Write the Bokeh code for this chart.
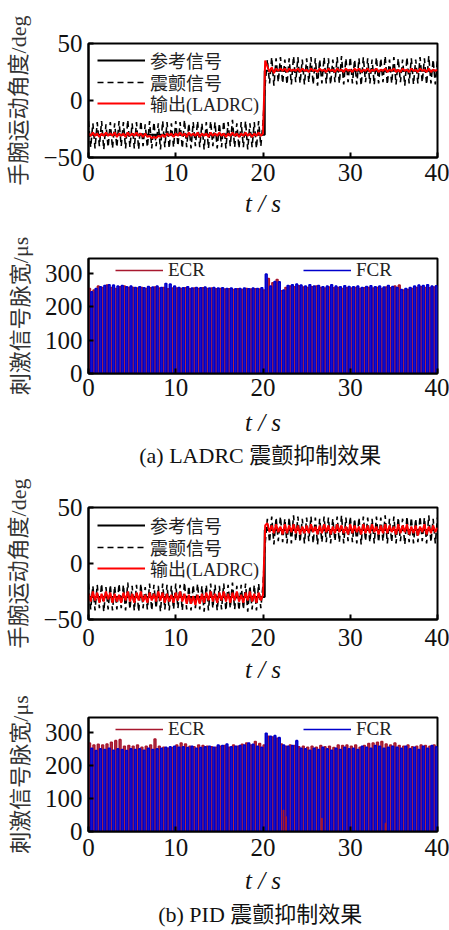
import numpy as np
from bokeh.plotting import figure
from bokeh.models import Legend, LegendItem, Range1d, FixedTicker, Title
from bokeh.layouts import column
from bokeh.embed import file_html
from bokeh.resources import INLINE

# ---------------- data ----------------
x_ticks = [0, 10, 20, 30, 40]
angle_ticks = [-50, 0, 50]
pulse_ticks = [0, 100, 200, 300]

step_t = 20.2
ref_a = [-30, 26]        # reference before / after the step, panel (a)
ref_b = [-30, 30]        # reference before / after the step, panel (b)
half_cycle = 0.25        # spacing of the read-off samples (s)

# tremor disturbance (deg, relative to reference), read at half-cycle samples
trem_dev = [
    12, -11, 10, -12, 11, -10, 12, -13, 9, -11, 11, -12, 10, -11, 12, -10, 11, -12, 13, -11,
    10, -12, 11, -13, 12, -10, 9, -11, 12, -12, 11, -10, 10, -13, 12, -11, 11, -12, 10, -11,
    12, -10, 11, -12, 13, -11, 10, -12, 11, -10, 12, -11, 10, -13, 11, -12, 12, -10, 11, -12,
    10, -11, 12, -12, 11, -10, 13, -11, 10, -12, 11, -11, 12, -13, 10, -11, 11, -12, 12, -10,
    11, -12, 10, -11, 12, -13, 11, -10, 12, -11, 10, -12, 11, -12, 13, -10, 12, -11, 10, -12,
    11, -10, 12, -12, 11, -13, 10, -11, 12, -11, 11, -12, 10, -10, 12, -11, 13, -12, 11, -10,
    12, -11, 10, -12, 11, -13, 12, -10, 11, -11, 10, -12, 12, -11, 11, -10, 13, -12, 10, -11,
    12, -12, 11, -10, 10, -13, 12, -11, 11, -12, 10, -11, 12, -10, 11, -12, 13, -11, 10, -12,
    11]

# LADRC output deviation from reference, panel (a)
out_a_dev = [
    1, -1, 2, -1, 1, -2, 1, -1, 2, -1, 1, -1, 2, -2, 1, -1, 1, -2, 2, -1,
    1, -1, 2, -1, 1, -2, 1, -2, -1, -3, -2, -3, -1, -2, 0, -2, 1, -1, 1, -2,
    1, -1, 2, -1, 1, -2, 2, -1, 1, -1, 2, -2, 1, -1, 1, -2, 2, -1, 1, -1,
    2, -1, 1, -2, 1, -1, 2, -1, 1, -2, 1, -1, 2, -1, 1, -2, 1, -1, 2, -1,
    1, 9, 4, -1, 3, -2, 2, 0, 2, 0, 2, -1, 2, 0, 1, 0, 2, -1, 2, 0,
    1, -1, 2, 0, 1, -1, 2, 0, 1, -1, 2, 0, 1, -1, 2, 0, 1, -1, 2, 0,
    1, -1, 2, 0, 2, -1, 1, 0, 2, -1, 1, 0, 2, -1, 1, 0, 2, -1, 1, 0,
    2, -1, 1, -1, 2, 0, 1, -1, 2, 0, 1, -1, 2, 0, 1, -1, 2, -1, 1, 0,
    1]

# PID output deviation from reference, panel (b)
out_b_dev = [
    3, -4, 5, -3, 4, -5, 3, -4, 5, -2, 4, -5, 3, -4, 2, -5, 4, -3, 5, -4,
    3, -5, 4, -3, 5, -4, 2, -5, 4, -3, 3, -4, 5, -3, 4, -5, 3, -4, 2, -5,
    4, -3, 5, -4, 3, -6, 2, -6, 1, -7, 2, -6, 3, -5, 4, -3, 5, -4, 3, -5,
    4, -3, 5, -4, 3, -5, 4, -3, 5, -4, 2, -5, 4, -3, 5, -4, 3, -5, 4, -3,
    2, 4, 6, -2, 4, -3, 5, -2, 3, -4, 5, -3, 4, -2, 5, -3, 4, -4, 3, -3,
    4, -3, 5, -2, 3, -4, 4, -3, 5, -2, 4, -4, 3, -3, 5, -2, 4, -3, 3, -4,
    5, -3, 4, -2, 3, -4, 5, -3, 4, -3, 5, -2, 3, -4, 4, -3, 5, -3, 4, -2,
    3, -4, 5, -3, 4, -2, 5, -4, 3, -3, 4, -5, 3, -2, 5, -4, 3, -3, 4, -2,
    2]

pulse_period = 0.5
pulse_width = 0.2
fcr_delay = 0.25

ecr_a = [255, 250, 262, 258, 265, 258, 255, 260, 262, 258,
         258, 256, 258, 255, 257, 259, 256, 258, 254, 256,
         256, 255, 257, 254, 256, 255, 257, 255, 256, 254,
         255, 253, 254, 252, 254, 252, 255, 253, 254, 253,
         250, 285, 272, 282, 248, 258, 262, 260, 263, 259,
         258, 260, 262, 258, 256, 259, 257, 258, 255, 257,
         256, 258, 255, 257, 258, 256, 258, 255, 259, 257,
         262, 265, 250, 252, 255, 258, 260, 258, 257, 259]
fcr_a = [245, 255, 260, 264, 266, 265, 262, 264, 260, 262,
         258, 260, 257, 261, 259, 262, 258, 270, 268, 262,
         258, 257, 260, 256, 258, 257, 259, 256, 258, 256,
         257, 255, 256, 254, 255, 256, 254, 256, 255, 257,
         298, 262, 276, 275, 250, 264, 266, 268, 265, 262,
         266, 262, 264, 260, 262, 266, 262, 260, 263, 261,
         260, 262, 258, 261, 263, 260, 262, 259, 264, 261,
         258, 252, 255, 258, 262, 265, 264, 266, 262, 263]
ecr_b = [268, 262, 264, 262, 265, 270, 275, 278, 258, 260,
         258, 262, 255, 258, 262, 280, 258, 255, 252, 254,
         262, 268, 265, 258, 256, 262, 260, 258, 256, 255,
         258, 260, 255, 262, 258, 264, 268, 262, 272, 266,
         262, 288, 286, 282, 265, 258, 262, 260, 256, 258,
         255, 258, 255, 260, 256, 258, 254, 262, 260, 262,
         258, 262, 255, 260, 266, 268, 270, 272, 265, 262,
         268, 260, 258, 262, 256, 258, 262, 260, 258, 262]
fcr_b = [252, 245, 250, 248, 252, 246, 250, 248, 245, 250,
         248, 250, 246, 252, 248, 250, 252, 255, 256, 258,
         255, 256, 254, 258, 252, 254, 256, 258, 255, 262,
         260, 265, 256, 258, 260, 262, 268, 264, 258, 255,
         297, 288, 290, 284, 262, 258, 260, 275, 252, 250,
         246, 252, 248, 255, 250, 246, 252, 248, 255, 250,
         252, 248, 258, 255, 252, 260, 258, 252, 255, 258,
         255, 252, 258, 250, 255, 248, 258, 252, 260, 256]
stub_b_t = [22.3, 22.6, 26.7, 34.0]
stub_b_h = [65, 45, 40, 25]

# ---------------- style ----------------
SERIF = "'Liberation Serif', 'Noto Sans CJK SC'"
NUM = "'Liberation Serif'"
ECR_C = "#a8182e"
FCR_C = "#0000cc"
W = 449
ITEM_H = 32          # fixed legend row box height (larger than the text box)


def make_fig(h, top, bottom, yr, yticks, ylabel, tick_standoff, label_standoff):
    p = figure(width=W, height=h, output_backend="svg", toolbar_location=None,
               x_range=Range1d(0, 40), y_range=Range1d(*yr),
               min_border_left=88, min_border_right=12,
               min_border_top=top, min_border_bottom=bottom)
    p.background_fill_color = "white"
    p.border_fill_color = "white"
    p.outline_line_color = "black"
    p.outline_line_width = 2
    p.xgrid.visible = False
    p.ygrid.visible = False
    p.xaxis.ticker = FixedTicker(ticks=x_ticks)
    p.yaxis.ticker = FixedTicker(ticks=yticks)
    for ax in (p.xaxis[0], p.yaxis[0]):
        ax.major_tick_in = 5
        ax.major_tick_out = 0
        ax.minor_tick_in = 0
        ax.minor_tick_out = 0
        ax.axis_line_color = "black"
        ax.axis_line_width = 2
        ax.major_tick_line_width = 2
        ax.major_label_text_font = NUM
        ax.major_label_text_font_size = "25px"
        ax.major_label_text_color = "#111111"
    p.xaxis.major_label_standoff = tick_standoff
    p.yaxis.major_label_standoff = 6
    p.yaxis.major_label_overrides = {-50: "\u221250"}
    p.yaxis.axis_label = ylabel
    p.yaxis.axis_label_text_font = SERIF
    p.yaxis.axis_label_text_font_size = "22px"
    p.yaxis.axis_label_text_font_style = "normal"
    p.yaxis.axis_label_text_color = "#333333"
    p.yaxis.axis_label_standoff = 9
    p.xaxis.axis_label = "t / s"
    p.xaxis.axis_label_text_font = NUM
    p.xaxis.axis_label_text_font_size = "25px"
    p.xaxis.axis_label_text_font_style = "italic"
    p.xaxis.axis_label_text_color = "#111111"
    p.xaxis.axis_label_standoff = label_standoff
    return p


def one_legend(label, renderer, vx, vy, font, size):
    return Legend(items=[LegendItem(label=label, renderers=[renderer])],
                  location=(vx, vy), margin=0, padding=0, spacing=0,
                  glyph_width=48, glyph_height=ITEM_H, label_height=ITEM_H,
                  label_standoff=5, label_text_font=font, label_text_font_size=size,
                  label_text_color="#222222",
                  background_fill_alpha=0, border_line_alpha=0)


def angle_panel(h, top, bottom, ref, out_dev, ts, ls, rows):
    yr = (-50, 50)
    p = make_fig(h, top, bottom, yr, angle_ticks, "手腕运动角度/deg", ts, ls)
    t = np.arange(len(trem_dev)) * half_cycle
    base = np.where(t < step_t, ref[0], ref[1])
    trem = base + np.array(trem_dev)
    out = base + np.array(out_dev)
    r_trem = p.line(t, trem, line_color="black", line_width=1.6, line_dash="6 4")
    r_ref = p.line([0, step_t, step_t, 40], [ref[0], ref[0], ref[1], ref[1]],
                   line_color="black", line_width=2)
    r_out = p.line(t, out, line_color="#ff0000", line_width=2)
    frame_h = h - top - bottom
    for lab, r, row in zip(["参考信号", "震颤信号", "输出(LADRC)"], [r_ref, r_trem, r_out], rows):
        p.add_layout(one_legend(lab, r, 9, frame_h - row - ITEM_H / 2, SERIF, "18px"))
    return p


def pulse_train(times, heights):
    xs, ys = [], []
    for t0, hh in zip(times, heights):
        xs += [t0, t0, t0 + pulse_width, t0 + pulse_width]
        ys += [0, hh, hh, 0]
    return xs, ys


def pulse_panel(h, top, bottom, ecr, fcr, ts, ls, caption, cap_standoff, stubs=None):
    yr = (0, 345)
    p = make_fig(h, top, bottom, yr, pulse_ticks, "刺激信号脉宽/μs", ts, ls)
    tp = np.arange(len(ecr)) * pulse_period
    el = tp + 0.02
    fl = tp + 0.02 + fcr_delay
    p.quad(left=el, right=el + pulse_width, bottom=0, top=ecr,
           fill_color="#b47cb4", fill_alpha=0.9, line_alpha=0)
    ex, ey = pulse_train(el, ecr)
    r_e = p.line(ex, ey, line_color=ECR_C, line_width=1.6)
    p.quad(left=fl, right=fl + pulse_width, bottom=0, top=fcr,
           fill_color="#7070d8", fill_alpha=0.9, line_alpha=0)
    fx, fy = pulse_train(fl, fcr)
    r_f = p.line(fx, fy, line_color=FCR_C, line_width=1.6)
    if stubs:
        st = np.array(stubs[0])
        p.quad(left=st, right=st + 0.1, bottom=0, top=stubs[1],
               fill_color=ECR_C, line_color=ECR_C, line_width=1)
    frame_h = h - top - bottom
    vy = frame_h - 12 - ITEM_H / 2
    p.add_layout(one_legend("ECR", r_e, 27, vy, NUM, "19px"))
    p.add_layout(one_legend("FCR", r_f, 215, vy, NUM, "19px"))
    p.add_layout(Title(text=caption, align="center", text_font=SERIF, text_font_size="22px",
                       text_font_style="normal", text_color="#111111",
                       standoff=cap_standoff), "below")
    return p


p1 = angle_panel(220, 43, 63, ref_a, out_a_dev, 6, 6, (17, 39, 60))
p2 = pulse_panel(255, 38, 102, ecr_a, fcr_a, 5, 10, "(a)  LADRC 震颤抑制效果", 5)
p3 = angle_panel(212, 32, 68, ref_b, out_b_dev, 9, 7, (18, 40, 61))
p4 = pulse_panel(243, 30, 99, ecr_b, fcr_b, 7, 8, "(b)  PID 震颤抑制效果", 7,
                 stubs=(stub_b_t, stub_b_h))

layout = column(p1, p2, p3, p4, spacing=0)
open("out.html", "w").write(file_html(layout, INLINE))
